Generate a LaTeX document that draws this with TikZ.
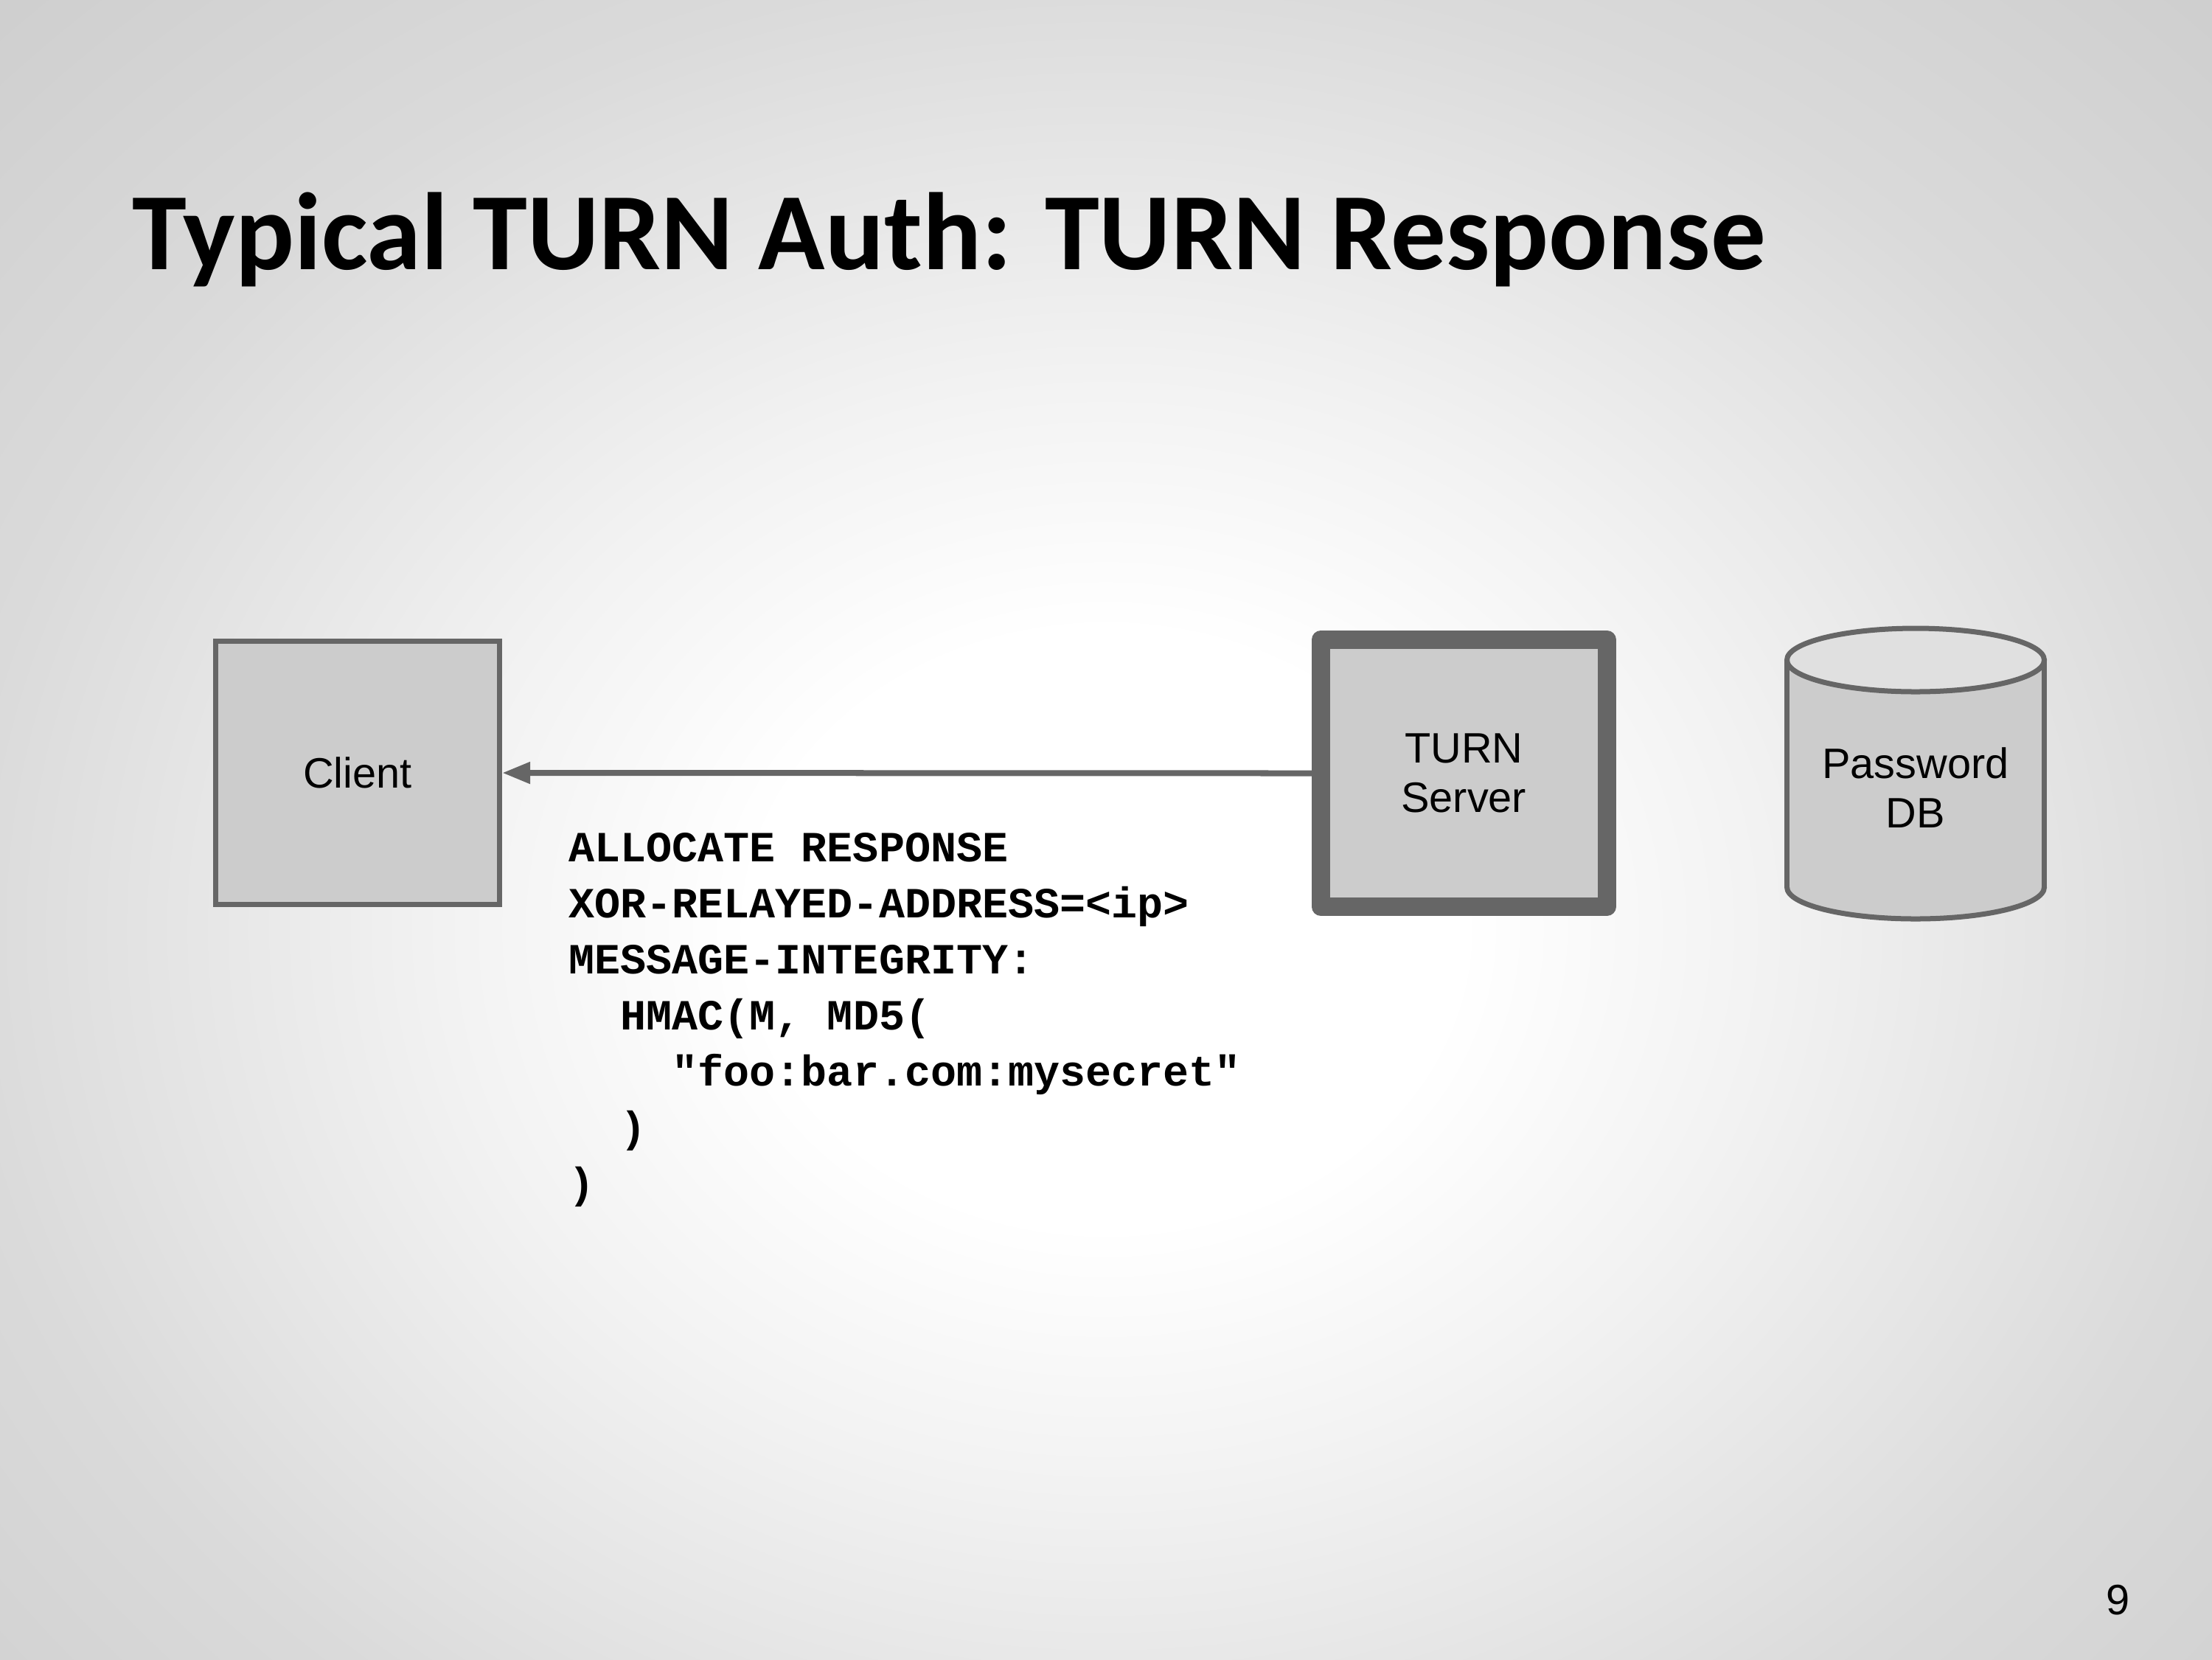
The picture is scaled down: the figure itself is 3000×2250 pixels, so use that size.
\documentclass[tikz,border=0pt]{standalone}
\usepackage{fontspec}
\setmainfont{Liberation Sans}
\setmonofont{Liberation Mono}
\newfontfamily\titlefont{Carlito}
\usetikzlibrary{arrows.meta}

\definecolor{boxfill}{HTML}{CCCCCC}
\definecolor{boxline}{HTML}{666666}
\definecolor{dbtop}{HTML}{E0E0E0}
\definecolor{bgone}{HTML}{F2F2F2}
\definecolor{bgtwo}{HTML}{E5E5E5}
\definecolor{bgthree}{HTML}{DADADA}
\definecolor{bgedge}{HTML}{CFCFCF}

% slide background: white centre fading to grey; the 25bp circle meets the edges
\pgfdeclareradialshading{slidebg}{\pgfpoint{0bp}{0bp}}{%
  color(0bp)=(white); color(8bp)=(white); color(15bp)=(bgone);
  color(21bp)=(bgtwo); color(26bp)=(bgthree); color(35bp)=(bgedge);
  color(50bp)=(bgedge)}

\begin{document}
\begin{tikzpicture}[x=0.01cm, y=-0.01cm,
  label/.style={font=\fontsize{16.4}{19.1}\selectfont, align=center, text=black},
  clientbox/.style={draw=boxline, fill=boxfill, line width=0.7mm,
    minimum width=38.5mm, minimum height=35.6mm, inner sep=0pt, outer sep=0.35mm},
  serverbox/.style={draw=boxline, fill=boxfill, line width=2.5mm, line join=round,
    minimum width=38.75mm, minimum height=36.2mm, inner sep=0pt, outer sep=1.25mm},
  dbline/.style={draw=boxline, line width=0.7mm},
  msg/.style={draw=boxline, line width=0.8mm,
    -{Triangle[length=3.8mm, width=2.8mm]}},
  code/.style={font=\fontsize{16.6}{21.6}\selectfont\ttfamily\bfseries,
    align=left, inner sep=0pt, text=black}
]
  % background and page size
  \useasboundingbox (0,0) rectangle (3000,2250);
  \begin{scope}
    \clip (0,0) rectangle (3000,2250);
    \shade[shading=slidebg] (0,0) rectangle (3000,2520);
  \end{scope}

  % title
  \node[anchor=base west, inner sep=0pt, font=\fontsize{42.4}{50}\selectfont\titlefont\bfseries]
    (title) at (179,365) {Typical TURN Auth: TURN Response};

  % client and server
  \node[clientbox, label] (client) at (485,1048) {Client};
  \node[serverbox, label] (server) at (1985.25,1048.5) {TURN\\Server};

  % password database cylinder
  \fill[boxfill] (2423.5,895) rectangle (2772.5,1203);
  \fill[boxfill] (2598,1203) ellipse [x radius=174.5, y radius=43];
  \begin{scope}
    \clip (2400,1203) rectangle (2800,1260);
    \draw[dbline] (2598,1203) ellipse [x radius=174.5, y radius=43];
  \end{scope}
  \draw[dbline] (2423.5,895) -- (2423.5,1203);
  \draw[dbline] (2772.5,895) -- (2772.5,1203);
  \draw[dbline, fill=dbtop] (2598,895) ellipse [x radius=174.5, y radius=43];
  \node[label] (db) at (2598,1068) {Password\\DB};

  % response message; the node's base is its last line
  \draw[msg] (server.west) -- (client.east);
  \node[code, anchor=base west] (response) at (771,1624) {%
    ALLOCATE RESPONSE\\
    XOR-RELAYED-ADDRESS=<ip>\\
    MESSAGE-INTEGRITY:\\
    \phantom{MM}HMAC(M, MD5(\\
    \phantom{MMMM}"foo:bar.com:mysecret"\\
    \phantom{MM})\\
    )};

  % slide number
  \node[anchor=base east, inner sep=0pt, font=\fontsize{16.4}{19}\selectfont]
    (pagenum) at (2889,2189) {9};
\end{tikzpicture}
\end{document}
